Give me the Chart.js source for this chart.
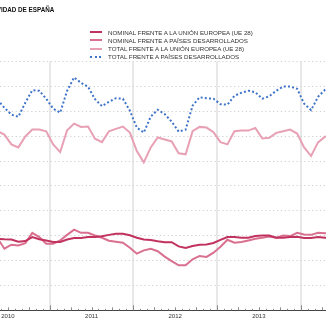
<!DOCTYPE html>
<html>
<head>
<meta charset="utf-8">
<script src="https://cdn.jsdelivr.net/npm/chart.js@4.4.0/dist/chart.umd.min.js"></script>
<style>
body { margin: 0; background: #fff; }
#wrap { position: relative; width: 326px; height: 326px; overflow: hidden; font-family: 'Liberation Sans', Arial, sans-serif; }
#chart { position: absolute; left: 0; top: 0; }
#title { position: absolute; right: 271.7px; top: 6px; font-weight: bold; font-size: 6.3px; white-space: nowrap; color: #111; }
#legend { position: absolute; left: 90px; top: 28.3px; font-size: 6.2px; color: #333; }
.row { height: 8.1px; display: flex; align-items: center; white-space: nowrap; }
.swatch { width: 12px; height: 2px; margin-right: 6px; }
</style>
</head>
<body>
<div id="wrap">
  <canvas id="chart" width="326" height="326"></canvas>
  <div id="title">ÍNDICE DE COMPETITIVIDAD DE ESPAÑA</div>
  <div id="legend"></div>
</div>
<script>
const monthLabels = [
  '2010-05','2010-06','2010-07','2010-08','2010-09','2010-10','2010-11','2010-12',
  '2011-01','2011-02','2011-03','2011-04','2011-05','2011-06','2011-07','2011-08','2011-09','2011-10','2011-11','2011-12',
  '2012-01','2012-02','2012-03','2012-04','2012-05','2012-06','2012-07','2012-08','2012-09','2012-10','2012-11','2012-12',
  '2013-01','2013-02','2013-03','2013-04','2013-05','2013-06','2013-07','2013-08','2013-09','2013-10','2013-11','2013-12',
  '2014-01','2014-02','2014-03','2014-04','2014-05'
]
const yearLabels = ['2010', '2011', '2012', '2013']

const nominalUE = [97.19, 97.14, 97.12, 96.89, 96.96, 97.36, 97.14, 97.02, 96.86, 96.86,
  97.12, 97.26, 97.27, 97.36, 97.37, 97.44, 97.58, 97.68, 97.70, 97.54,
  97.29, 97.12, 97.06, 96.94, 96.84, 96.84, 96.42, 96.26, 96.46, 96.59,
  96.62, 96.76, 97.07, 97.36, 97.36, 97.29, 97.29, 97.46, 97.52, 97.52,
  97.29, 97.29, 97.36, 97.39, 97.26, 97.26, 97.36, 97.29, 97.29]
const nominalDesarrollados = [97.25, 96.19, 96.59, 96.52, 96.74, 97.78, 97.36, 96.69, 96.69, 97.02,
  97.58, 98.11, 97.78, 97.78, 97.52, 97.29, 96.99, 96.89, 96.79, 96.29,
  95.69, 96.02, 96.19, 95.94, 95.39, 94.94, 94.52, 94.52, 95.12, 95.46,
  95.36, 95.79, 96.39, 97.09, 96.79, 96.86, 97.02, 97.19, 97.29, 97.42,
  97.29, 97.52, 97.46, 97.78, 97.61, 97.58, 97.78, 97.75, 97.73]
const totalUE = [108.02, 107.66, 106.67, 106.37, 107.47, 108.16, 108.16, 107.99, 106.67, 105.90,
  108.09, 108.76, 108.43, 108.46, 107.25, 106.90, 107.99, 108.23, 108.46, 107.86,
  106.00, 104.87, 106.37, 107.37, 107.17, 106.97, 105.77, 105.67, 107.99, 108.43,
  108.36, 107.89, 106.90, 106.67, 107.99, 108.06, 108.06, 108.33, 107.27, 107.34,
  107.83, 107.99, 108.16, 107.76, 106.37, 105.50, 106.87, 107.44, 107.66]
const totalDesarrollados = [111.16, 110.36, 109.66, 109.45, 110.86, 112.11, 112.06, 111.26, 110.26, 109.86,
  112.06, 113.40, 112.85, 112.46, 111.21, 110.51, 110.96, 111.31, 111.26, 110.06,
  108.36, 107.86, 109.46, 110.16, 109.71, 108.96, 107.96, 108.16, 110.56, 111.41,
  111.31, 111.26, 110.71, 110.66, 111.56, 111.86, 112.06, 111.91, 111.26, 111.51,
  112.06, 112.49, 112.49, 112.26, 110.76, 110.11, 111.46, 112.16, 112.56]

const seriesNames = [
  'NOMINAL FRENTE A LA UNIÓN EUROPEA (UE 28)',
  'NOMINAL FRENTE A PAÍSES DESARROLLADOS',
  'TOTAL FRENTE A LA UNIÓN EUROPEA (UE 28)',
  'TOTAL FRENTE A PAÍSES DESARROLLADOS'
]
const seriesValues = [nominalUE, nominalDesarrollados, totalUE, totalDesarrollados]
const seriesColors = ['#c2325f', '#d9708f', '#e7a0b4', '#3f74c8']
const seriesDash = [[], [], [], [2, 2.2]]

// months counted from january 2010, points sit in the middle of the month
function monthPos(label) {
  const [y, m] = label.split('-').map(Number)
  return (y - 2010) * 12 + (m - 1) + 0.5
}

const datasets = seriesValues.map((vals, i) => ({
  label: seriesNames[i],
  data: vals.map((v, j) => ({x: monthPos(monthLabels[j]), y: v})),
  borderColor: seriesColors[i],
  borderWidth: 2,
  borderDash: seriesDash[i],
  borderCapStyle: 'butt',
  pointRadius: 0,
  tension: 0,
  fill: false
}))

// legend
document.getElementById('legend').innerHTML = seriesNames.map((name, i) => {
  const bg = seriesDash[i].length
    ? `repeating-linear-gradient(90deg, ${seriesColors[i]} 0 2px, transparent 2px 4.6px)`
    : seriesColors[i]
  return `<div class="row"><span class="swatch" style="background:${bg}"></span>${name}</div>`
}).join('')

const monthTicks = {
  id: 'monthTicks',
  afterDatasetsDraw(chart) {
    const xs = chart.scales.x
    const ctx = chart.ctx
    const b = chart.chartArea.bottom
    ctx.save()
    ctx.strokeStyle = '#8a8a8a'
    ctx.lineWidth = 1
    for (let m = Math.ceil(xs.min); m <= xs.max; m++) {
      const len = m % 12 === 0 ? 5 : (m % 3 === 0 ? 3 : 1.5)
      const px = Math.round(xs.getPixelForValue(m)) + 0.5
      ctx.beginPath()
      ctx.moveTo(px, b)
      ctx.lineTo(px, b - len)
      ctx.stroke()
    }
    ctx.restore()
  }
}

Chart.defaults.font.family = "'Liberation Sans', Arial, sans-serif"

new Chart(document.getElementById('chart'), {
  type: 'line',
  data: {datasets},
  plugins: [monthTicks],
  options: {
    responsive: false,
    animation: false,
    layout: {padding: {top: 61.5, bottom: 4.5, left: 0, right: 0}},
    plugins: {legend: {display: false}, title: {display: false}, tooltip: {enabled: false}},
    scales: {
      x: {
        type: 'linear',
        min: 4.87,
        max: 51.64,
        afterBuildTicks: s => { s.ticks = [6, 12, 18, 24, 30, 36, 42, 48].map(v => ({value: v})) },
        afterFit: s => { s.paddingLeft = 0; s.paddingRight = 0 },
        ticks: {
          autoSkip: false,
          maxRotation: 0,
          padding: 2,
          color: '#333',
          font: {size: 6},
          callback: v => (v % 12 === 6 ? yearLabels[(v - 6) / 12] : '')
        },
        grid: {
          drawTicks: false,
          lineWidth: 2,
          color: c => (c.tick && c.tick.value % 12 === 0 ? '#e8e8e8' : 'rgba(0,0,0,0)')
        },
        border: {display: true, color: '#444', width: 1}
      },
      y: {
        min: 90,
        max: 115,
        afterBuildTicks: s => { s.ticks = [90, 92.5, 95, 97.5, 100, 102.5, 105, 107.5, 110, 112.5, 115].map(v => ({value: v})) },
        afterFit: s => { s.width = 0 },
        ticks: {display: false},
        grid: {
          drawTicks: false,
          lineWidth: 1,
          color: c => (c.tick && c.tick.value === 90 ? 'rgba(0,0,0,0)' : '#d2d2d2')
        },
        border: {display: false, dash: [1.3, 2.6]}
      }
    }
  }
})
</script>
</body>
</html>
